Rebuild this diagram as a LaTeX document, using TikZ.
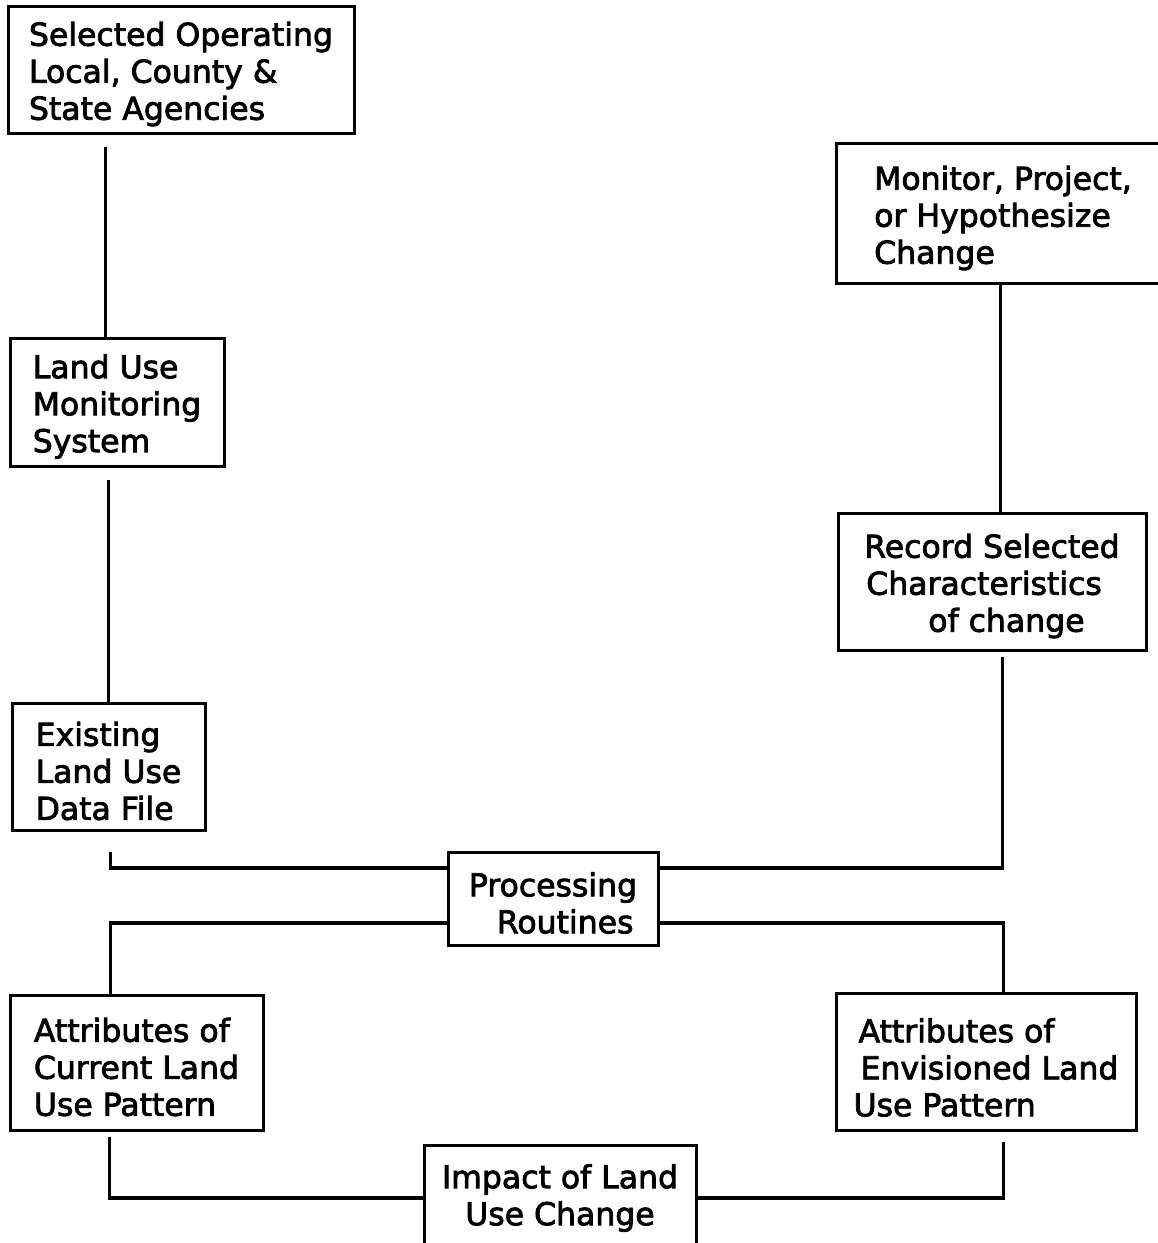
\documentclass[tikz,border=0pt]{standalone}
\usepackage{fontspec}
\setmainfont{DejaVu Sans}
\newfontfamily\boxfont{DejaVu Sans}[FakeBold=2.5]
% strut that lowers each block of lines a little inside its box
\newcommand{\firstline}{\rule{0pt}{33pt}}
\begin{document}
\begin{tikzpicture}[x=1pt,y=-1pt,
  stagebox/.style={draw, line width=3pt, rectangle, align=left, inner sep=0pt,
    font=\boxfont\fontsize{31.5}{37}\selectfont},
  link/.style={line width=3.2pt}]
\useasboundingbox (0,0) rectangle (1158,1243);

% boxes of the flow
\node[stagebox, minimum width=346pt, minimum height=127pt] (agency) at (181,69.5)
  {\firstline Selected Operating\\Local, County \&\\State Agencies};
\node[stagebox, minimum width=334pt, minimum height=140pt] (change) at (1003,213.5)
  {\firstline Monitor, Project,\\or Hypothesize\\Change};
\node[stagebox, minimum width=214pt, minimum height=128pt] (monitor) at (117,402)
  {\firstline Land Use\\Monitoring\\System};
\node[stagebox, minimum width=308pt, minimum height=137pt] (record) at (992,581.5)
  {\firstline Record Selected\\\hspace*{2pt}Characteristics\\\hspace*{64pt}of change};
\node[stagebox, minimum width=193pt, minimum height=127pt] (existing) at (108.5,766.5)
  {\firstline Existing\\Land Use\\Data File};
\node[stagebox, minimum width=210pt, minimum height=93pt] (proc) at (553,898.5)
  {\firstline Processing\\\hspace*{28pt}Routines};
\node[stagebox, minimum width=253pt, minimum height=135pt] (current) at (136.5,1062.5)
  {\firstline Attributes of\\Current Land\\Use Pattern};
\node[stagebox, minimum width=300pt, minimum height=137pt] (envis) at (986,1061.5)
  {\rule{0pt}{36pt}\hspace*{5pt}Attributes of\\\hspace*{7pt}Envisioned Land\\Use Pattern};
\node[stagebox, align=center, minimum width=272pt, minimum height=106pt] (impact) at (560,1198)
  {Impact of Land\\Use Change};

% connectors
\draw[link] ([xshift=99pt,yshift=-12pt]agency.south west) -- ([xshift=97pt]monitor.north west);
\draw[link] ([xshift=100pt,yshift=-12pt]monitor.south west) -- ([xshift=98pt]existing.north west);
\draw[link] ([xshift=166pt]change.south west) -- ([xshift=164pt]record.north west);
\draw[link] ([xshift=100pt,yshift=-20pt]existing.south west) |- ([yshift=30.5pt]proc.west);
\draw[link] ([xshift=166pt,yshift=-5pt]record.south west) |- ([yshift=30.5pt]proc.east);
\draw[link] ([yshift=-24.5pt]proc.west) -| ([xshift=102pt]current.north west);
\draw[link] ([yshift=-24.5pt]proc.east) -| ([xshift=169pt]envis.north west);
\draw[link] ([xshift=101pt,yshift=-5pt]current.south west) |- (impact.west);
\draw[link] ([xshift=169pt,yshift=-10pt]envis.south west) |- (impact.east);
\end{tikzpicture}
\end{document}
